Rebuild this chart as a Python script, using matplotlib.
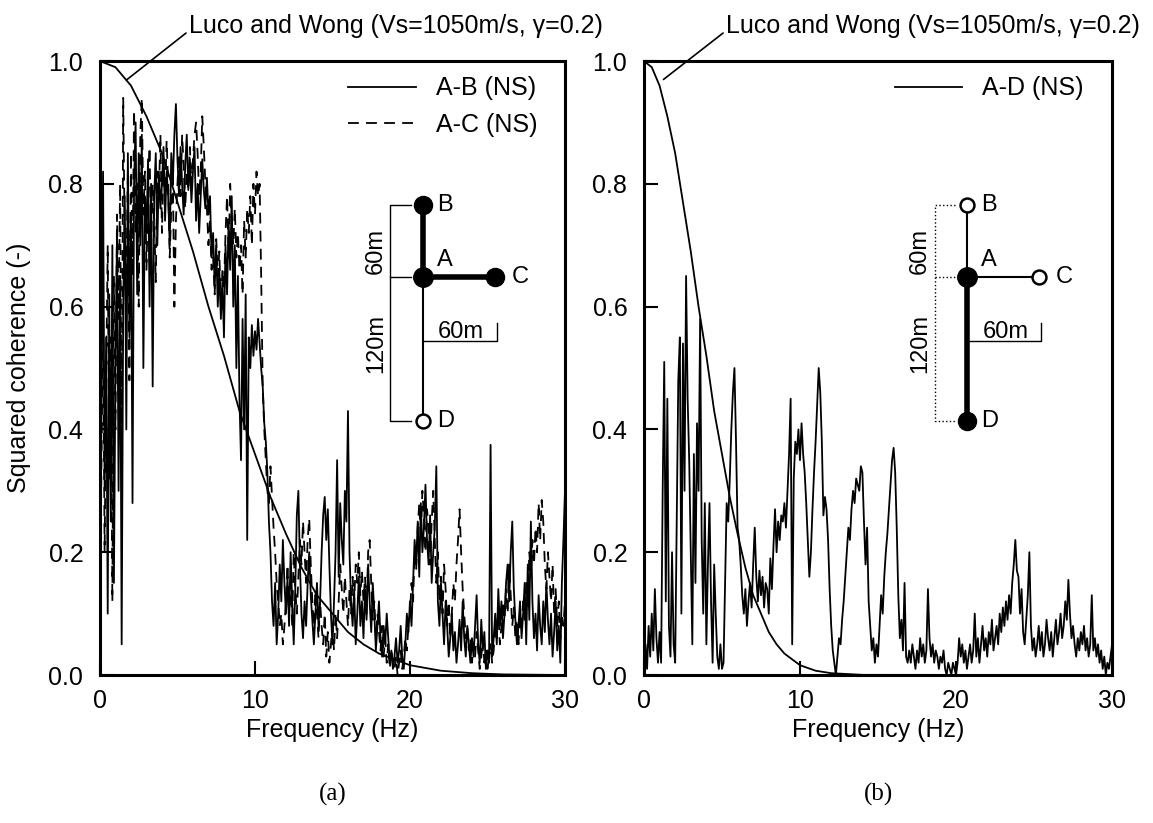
import numpy as np
import matplotlib
matplotlib.use('Agg')
import matplotlib.pyplot as plt

plt.rcParams['font.family'] = ['Liberation Sans', 'DejaVu Sans']
plt.rcParams['font.size'] = 18

# frequency grid of the measured coherence (0.1 Hz)
freq = np.round(np.arange(0, 301) * 0.1, 1)

coh_ab = [
    0.05, 0.45, 0.82, 0.30, 0.55, 0.10, 0.62, 0.25, 0.70, 0.15,
    0.50, 0.72, 0.30, 0.65, 0.05, 0.60, 0.78, 0.40, 0.85, 0.55,
    0.75, 0.28, 0.80, 0.90, 0.62, 0.85, 0.70, 0.88, 0.50, 0.78,
    0.72, 0.84, 0.60, 0.80, 0.47, 0.78, 0.85, 0.70, 0.82, 0.76,
    0.80, 0.86, 0.74, 0.82, 0.78, 0.70, 0.85, 0.80, 0.88, 0.93,
    0.84, 0.78, 0.86, 0.80, 0.75, 0.83, 0.88, 0.79, 0.84, 0.77,
    0.82, 0.86, 0.74, 0.80, 0.72, 0.78, 0.84, 0.79, 0.76, 0.81,
    0.75, 0.78, 0.68, 0.72, 0.63, 0.70, 0.60, 0.66, 0.58, 0.64,
    0.55, 0.70, 0.62, 0.74, 0.66, 0.78, 0.60, 0.70, 0.50, 0.65,
    0.45, 0.35, 0.58, 0.40, 0.62, 0.22, 0.55, 0.50, 0.57, 0.52,
    0.56, 0.53, 0.58, 0.54, 0.50, 0.47, 0.41, 0.38, 0.33, 0.25,
    0.20, 0.12, 0.08, 0.15, 0.05, 0.10, 0.18, 0.12, 0.22, 0.15,
    0.10, 0.16, 0.08, 0.20, 0.12, 0.05, 0.14, 0.26, 0.30, 0.18,
    0.10, 0.06, 0.12, 0.08, 0.15, 0.20, 0.13, 0.09, 0.05, 0.10,
    0.15, 0.08, 0.12, 0.20, 0.26, 0.29, 0.22, 0.27, 0.18, 0.10,
    0.05, 0.12, 0.20, 0.35, 0.16, 0.28, 0.22, 0.18, 0.30, 0.25,
    0.43, 0.20, 0.12, 0.08, 0.14, 0.05, 0.10, 0.16, 0.08, 0.12,
    0.06, 0.14, 0.09, 0.18, 0.12, 0.07, 0.15, 0.10, 0.04, 0.08,
    0.12, 0.06, 0.03, 0.08, 0.05, 0.10, 0.06, 0.02, 0.04, 0.01,
    0.03, 0.06, 0.02, 0.04, 0.08, 0.03, 0.01, 0.05, 0.10, 0.07,
    0.12, 0.08, 0.15, 0.22, 0.18, 0.25, 0.16, 0.28, 0.20, 0.24,
    0.31, 0.22, 0.18, 0.26, 0.15, 0.20, 0.24, 0.34, 0.12, 0.08,
    0.15, 0.10, 0.05, 0.12, 0.08, 0.03, 0.06, 0.10, 0.04, 0.07,
    0.02, 0.05, 0.09, 0.04, 0.12, 0.06, 0.03, 0.08, 0.05, 0.02,
    0.06, 0.03, 0.08, 0.13, 0.05, 0.02, 0.09, 0.04, 0.07, 0.01,
    0.04, 0.02, 0.375, 0.03, 0.06, 0.10, 0.05, 0.14, 0.08, 0.12,
    0.06, 0.10, 0.15, 0.18, 0.12, 0.20, 0.25, 0.14, 0.09, 0.05,
    0.08, 0.12, 0.06, 0.10, 0.15, 0.05, 0.18, 0.09, 0.25, 0.12,
    0.06, 0.10, 0.04, 0.13, 0.08, 0.05, 0.12, 0.07, 0.15, 0.09,
    0.05, 0.10, 0.03, 0.07, 0.12, 0.04, 0.08, 0.02, 0.15, 0.22,
    0.30,
]

coh_ac = [
    0.10, 0.35, 0.60, 0.20, 0.48, 0.70, 0.32, 0.55, 0.12, 0.65,
    0.40, 0.75, 0.58, 0.80, 0.35, 0.94, 0.70, 0.62, 0.82, 0.48,
    0.85, 0.65, 0.92, 0.72, 0.80, 0.60, 0.88, 0.94, 0.75, 0.82,
    0.66, 0.78, 0.86, 0.70, 0.80, 0.74, 0.64, 0.82, 0.78, 0.88,
    0.72, 0.84, 0.78, 0.87, 0.80, 0.68, 0.76, 0.82, 0.60, 0.74,
    0.80, 0.85, 0.78, 0.88, 0.83, 0.76, 0.82, 0.79, 0.86, 0.80,
    0.84, 0.88, 0.90, 0.85, 0.78, 0.82, 0.91, 0.86, 0.80, 0.76,
    0.70, 0.74, 0.66, 0.68, 0.62, 0.71, 0.65, 0.69, 0.60, 0.66,
    0.63, 0.72, 0.78, 0.68, 0.80, 0.74, 0.70, 0.76, 0.68, 0.72,
    0.66, 0.70, 0.62, 0.74, 0.68, 0.76, 0.72, 0.78, 0.70, 0.80,
    0.75, 0.82, 0.78, 0.80, 0.65, 0.47, 0.40, 0.35, 0.30, 0.28,
    0.34, 0.29, 0.24, 0.20, 0.15, 0.12, 0.08, 0.10, 0.05, 0.08,
    0.12, 0.18, 0.10, 0.15, 0.08, 0.20, 0.14, 0.10, 0.16, 0.22,
    0.18, 0.25, 0.20, 0.15, 0.22, 0.255, 0.18, 0.12, 0.08, 0.14,
    0.10, 0.06, 0.12, 0.08, 0.05, 0.10, 0.03, 0.07, 0.02, 0.05,
    0.08, 0.04, 0.10, 0.06, 0.12, 0.18, 0.14, 0.10, 0.16, 0.12,
    0.08, 0.14, 0.10, 0.16, 0.12, 0.18, 0.15, 0.20, 0.13, 0.17,
    0.12, 0.16, 0.10, 0.20, 0.22, 0.15, 0.09, 0.12, 0.06, 0.10,
    0.07, 0.04, 0.08, 0.03, 0.06, 0.02, 0.05, 0.01, 0.04, 0.02,
    0.01, 0.03, 0.00, 0.02, 0.04, 0.01, 0.03, 0.06, 0.04, 0.08,
    0.10, 0.15, 0.12, 0.20, 0.17, 0.24, 0.28, 0.22, 0.30, 0.26,
    0.20, 0.27, 0.24, 0.18, 0.25, 0.30, 0.22, 0.15, 0.20, 0.12,
    0.16, 0.10, 0.18, 0.14, 0.08, 0.12, 0.06, 0.10, 0.15, 0.12,
    0.18, 0.22, 0.27, 0.20, 0.14, 0.10, 0.06, 0.08, 0.04, 0.06,
    0.02, 0.05, 0.03, 0.07, 0.04, 0.01, 0.03, 0.06, 0.02, 0.04,
    0.01, 0.03, 0.05, 0.02, 0.04, 0.08, 0.06, 0.10, 0.05, 0.08,
    0.12, 0.09, 0.14, 0.10, 0.18, 0.13, 0.08, 0.11, 0.06, 0.09,
    0.05, 0.10, 0.07, 0.12, 0.09, 0.15, 0.11, 0.20, 0.16, 0.22,
    0.18, 0.24, 0.20, 0.28, 0.22, 0.285, 0.25, 0.18, 0.14, 0.20,
    0.16, 0.12, 0.18, 0.10, 0.14, 0.08, 0.12, 0.06, 0.10, 0.08,
    0.12,
]

coh_ad = [
    0.02, 0.05, 0.01, 0.08, 0.03, 0.10, 0.04, 0.14, 0.06, 0.02,
    0.07, 0.02, 0.30, 0.51, 0.12, 0.45, 0.08, 0.03, 0.20, 0.05,
    0.02, 0.25, 0.48, 0.55, 0.10, 0.54, 0.30, 0.65, 0.45, 0.35,
    0.20, 0.05, 0.36, 0.15, 0.41, 0.30, 0.58, 0.22, 0.10, 0.28,
    0.05, 0.18, 0.28, 0.12, 0.02, 0.18, 0.10, 0.03, 0.01, 0.05,
    0.01, 0.02, 0.15, 0.28, 0.25, 0.32, 0.40, 0.46, 0.50, 0.38,
    0.24, 0.22, 0.18, 0.13, 0.10, 0.14, 0.08, 0.12, 0.15, 0.11,
    0.18, 0.24, 0.16, 0.12, 0.17, 0.13, 0.16, 0.11, 0.15, 0.14,
    0.10, 0.19, 0.14, 0.21, 0.27, 0.20, 0.25, 0.22, 0.26, 0.25,
    0.28, 0.24, 0.30, 0.36, 0.45, 0.05, 0.32, 0.38, 0.36, 0.40,
    0.35, 0.41, 0.36, 0.33, 0.28, 0.22, 0.16, 0.20, 0.27, 0.33,
    0.38, 0.44, 0.50, 0.46, 0.38, 0.26, 0.29, 0.27, 0.22, 0.14,
    0.08, 0.04, 0.02, 0.00, 0.03, 0.06, 0.05, 0.09, 0.12, 0.16,
    0.20, 0.24, 0.22, 0.27, 0.30, 0.28, 0.32, 0.31, 0.30, 0.34,
    0.33, 0.25, 0.18, 0.24, 0.12, 0.08, 0.04, 0.06, 0.02, 0.05,
    0.03, 0.08, 0.13, 0.10, 0.16, 0.20, 0.23, 0.27, 0.31, 0.35,
    0.37, 0.33, 0.24, 0.13, 0.06, 0.09, 0.04, 0.15, 0.03, 0.02,
    0.04, 0.02, 0.05, 0.03, 0.01, 0.04, 0.02, 0.06, 0.03, 0.05,
    0.02, 0.04, 0.14, 0.06, 0.03, 0.05, 0.02, 0.04, 0.03, 0.01,
    0.03, 0.02, 0.04, 0.01, 0.00, 0.02, 0.01, 0.00, 0.02, 0.01,
    0.00, 0.02, 0.06, 0.03, 0.05, 0.02, 0.04, 0.01, 0.03, 0.05,
    0.02, 0.04, 0.10, 0.03, 0.06, 0.02, 0.05, 0.08, 0.04, 0.06,
    0.03, 0.07, 0.05, 0.09, 0.04, 0.06, 0.08, 0.05, 0.10, 0.07,
    0.11, 0.08, 0.12, 0.09, 0.13, 0.10, 0.15, 0.18, 0.22, 0.17,
    0.16, 0.10, 0.14, 0.07, 0.05, 0.09, 0.13, 0.20, 0.08, 0.04,
    0.06, 0.03, 0.05, 0.08, 0.04, 0.07, 0.03, 0.05, 0.09, 0.06,
    0.04, 0.07, 0.03, 0.06, 0.09, 0.05, 0.07, 0.10, 0.06, 0.08,
    0.12, 0.09, 0.155, 0.10, 0.06, 0.08, 0.05, 0.03, 0.06, 0.04,
    0.07, 0.05, 0.08, 0.04, 0.06, 0.03, 0.05, 0.13, 0.04, 0.06,
    0.03, 0.05, 0.02, 0.04, 0.01, 0.03, 0.00, 0.02, 0.01, 0.03,
    0.05,
]

# Luco and Wong model curves
lw_freq_60 = [0, 1, 2, 3, 4, 5, 6, 7, 8, 9, 10, 11, 12, 13, 14, 15, 16, 17, 18, 20, 22, 24, 26, 30]
lw_coh_60 = [1.0, 0.99, 0.96, 0.91, 0.85, 0.77, 0.69, 0.60, 0.52, 0.43, 0.36, 0.29, 0.23, 0.175,
             0.13, 0.10, 0.07, 0.05, 0.035, 0.016, 0.007, 0.003, 0.001, 0.0]
lw_freq_120 = [0, 0.5, 1, 1.5, 2, 2.5, 3, 3.5, 4, 4.5, 5, 5.5, 6, 6.5, 7, 7.5, 8, 8.5, 9, 10, 11, 12, 14, 30]
lw_coh_120 = [1.0, 0.99, 0.96, 0.91, 0.85, 0.77, 0.69, 0.60, 0.52, 0.43, 0.36, 0.29, 0.23, 0.175,
              0.13, 0.10, 0.07, 0.05, 0.035, 0.016, 0.007, 0.003, 0.0003, 0.0]

luco_label = 'Luco and Wong (Vs=1050m/s, γ=0.2)'


def draw_array(ax, bounds, thick, filled):
    # small sketch of the A-B-C-D array, in metres
    ins = ax.inset_axes(bounds)
    ins.set_xlim(-40, 80)
    ins.set_ylim(-130, 70)
    ins.axis('off')
    pts = {'A': (0, 0), 'B': (0, 60), 'C': (60, 0), 'D': (0, -120)}
    for seg in ['AB', 'AC', 'AD']:
        p, q = pts[seg[0]], pts[seg[1]]
        ins.plot([p[0], q[0]], [p[1], q[1]], color='black',
                 lw=4 if seg in thick else 1.5, solid_capstyle='butt', zorder=2)
    for name, (x, y) in pts.items():
        if name in filled:
            ins.plot(x, y, 'o', ms=13 if name != 'A' else 14, mfc='black', mec='black', zorder=3)
        else:
            ins.plot(x, y, 'o', ms=10, mfc='white', mec='black', mew=1.8, zorder=3)
    ins.text(12, 60, 'B', ha='left', va='center', fontsize=17)
    ins.text(12, 14, 'A', ha='left', va='center', fontsize=17)
    ins.text(74, 0, 'C', ha='left', va='center', fontsize=17)
    ins.text(12, -120, 'D', ha='left', va='center', fontsize=17)
    ls = '-' if 'B' in filled else ':'
    ins.plot([-10, -27, -27, -10], [60, 60, -120, -120], color='black', lw=1, ls=ls)
    ins.plot([-27, -10], [0, 0], color='black', lw=1, ls=ls)
    ins.plot([0, 62, 62], [-53, -53, -38], color='black', lw=1)
    ins.text(-30, 22, '60m', rotation=90, ha='right', va='center', fontsize=17)
    ins.text(-30, -55, '120m', rotation=90, ha='right', va='center', fontsize=17)
    ins.text(32, -46, '60m', ha='center', va='center', fontsize=17)


fig = plt.figure(figsize=(11.53, 8.23), dpi=100)
ax1 = fig.add_axes([0.0867, 0.1798, 0.4033, 0.746])
ax2 = fig.add_axes([0.5585, 0.1798, 0.406, 0.746])

ax1.plot(freq, coh_ab, color='black', lw=1.3, label='A-B (NS)')
ax1.plot(freq, coh_ac, color='black', lw=1.3, dashes=(6, 4), label='A-C (NS)')
ax1.plot(lw_freq_60, lw_coh_60, color='black', lw=1.3)
ax2.plot(freq, coh_ad, color='black', lw=1.3, label='A-D (NS)')
ax2.plot(lw_freq_120, lw_coh_120, color='black', lw=1.3)

for ax in (ax1, ax2):
    ax.set_xlim(0, 30)
    ax.set_ylim(0, 1.0)
    ax.set_xticks([0, 10, 20, 30])
    ax.set_yticks([0.0, 0.2, 0.4, 0.6, 0.8, 1.0])
    ax.yaxis.set_major_formatter(matplotlib.ticker.FormatStrFormatter('%.1f'))
    ax.tick_params(direction='in', length=10, width=1.5, labelsize=18)
    ax.tick_params(axis='y', pad=12)
    ax.tick_params(axis='x', pad=10)
    for s in ax.spines.values():
        s.set_linewidth(2.2)
    ax.set_xlabel('Frequency (Hz)', fontsize=18, labelpad=4)
    ax.legend(loc='upper right', bbox_to_anchor=(0.94, 0.975), frameon=False, fontsize=18,
              handlelength=2.7, handletextpad=0.8, labelspacing=0.5, borderpad=0, borderaxespad=0)

ax1.set_ylabel('Squared coherence (-)', fontsize=18)
ax1.yaxis.set_label_coords(-0.148, 0.5)

ax1.annotate(luco_label, xy=(1.7, 0.969), xytext=(0.191, 1.057), textcoords='axes fraction',
             ha='left', va='center', fontsize=18, annotation_clip=False,
             arrowprops=dict(arrowstyle='-', color='black', lw=1.2, shrinkA=0, shrinkB=0, relpos=(0, 0.3)))
ax2.annotate(luco_label, xy=(1.25, 0.97), xytext=(0.175, 1.057), textcoords='axes fraction',
             ha='left', va='center', fontsize=18, annotation_clip=False,
             arrowprops=dict(arrowstyle='-', color='black', lw=1.2, shrinkA=0, shrinkB=0, relpos=(0, 0.3)))

draw_array(ax1, [0.591, 0.394, 0.3097, 0.391], thick='ABAC', filled='ABC')
draw_array(ax2, [0.5876, 0.394, 0.3077, 0.391], thick='AD', filled='AD')

fig.text(ax1.get_position().x0 + ax1.get_position().width / 2, 0.035, '(a)',
         family='Liberation Serif', fontsize=18, ha='center', va='center')
fig.text(ax2.get_position().x0 + ax2.get_position().width / 2, 0.035, '(b)',
         family='Liberation Serif', fontsize=18, ha='center', va='center')

fig.savefig('out.png', dpi=100)
